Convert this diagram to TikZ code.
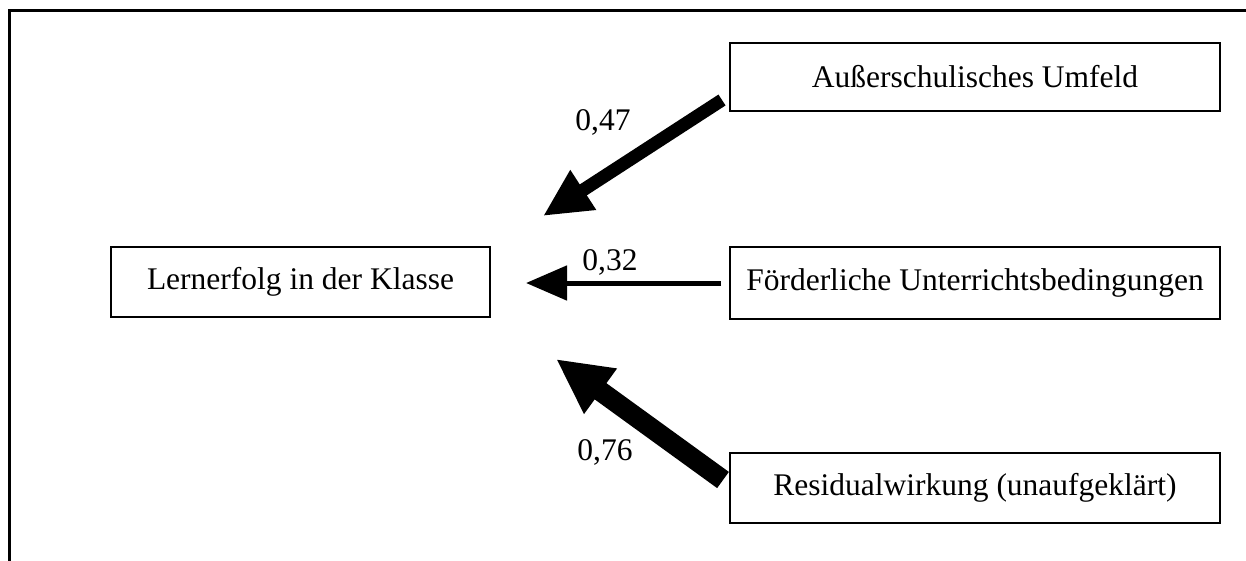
\documentclass[tikz,border=0pt]{standalone}
\usepackage{fontspec}
\setmainfont{Liberation Serif}
\usetikzlibrary{arrows.meta}
\begin{document}
\begin{tikzpicture}[x=1pt,y=-1pt,
  box/.style={draw,line width=2pt,minimum width=#1,inner sep=0pt,font=\fontsize{31.5}{36}\selectfont},
  lab/.style={inner sep=0pt,font=\fontsize{31.5}{36}\selectfont},
  conn/.style={line cap=butt}]
\useasboundingbox (0,0) rectangle (1246,560);
\fill[white] (0,0) rectangle (1246,560);
\draw[line width=3pt] (9,565) -- (9,10) -- (1250,10);
\node[box=379pt,minimum height=70pt] (A) at (300.5,282) {Lernerfolg in der Klasse};
\node[box=490pt,minimum height=68pt] (B) at (975,77) {Außerschulisches Umfeld};
\node[box=490pt,minimum height=72pt] (C) at (975,283) {Förderliche Unterrichtsbedingungen};
\node[box=490pt,minimum height=70pt] (D) at (975,488) {Residualwirkung (unaufgeklärt)};
\coordinate (sB) at (722,100);
\coordinate (tB) at (543,216);
\coordinate (sC) at (721,283);
\coordinate (tC) at (526,283);
\coordinate (sD) at (723,480);
\coordinate (tD) at (556,359);
\draw[conn,line width=13pt,-{Triangle[length=48pt,width=44pt]}] (sB) -- (tB);
\draw[conn,line width=5pt,-{Triangle[length=41pt,width=34pt]}] (sC) -- (tC);
\draw[conn,line width=20pt,-{Triangle[length=55pt,width=52pt]}] (sD) -- (tD);
\node[lab] (l47) at (603,122) {0,47};
\node[lab] (l32) at (610,262) {0,32};
\node[lab] (l76) at (605,452) {0,76};
\end{tikzpicture}
\end{document}
